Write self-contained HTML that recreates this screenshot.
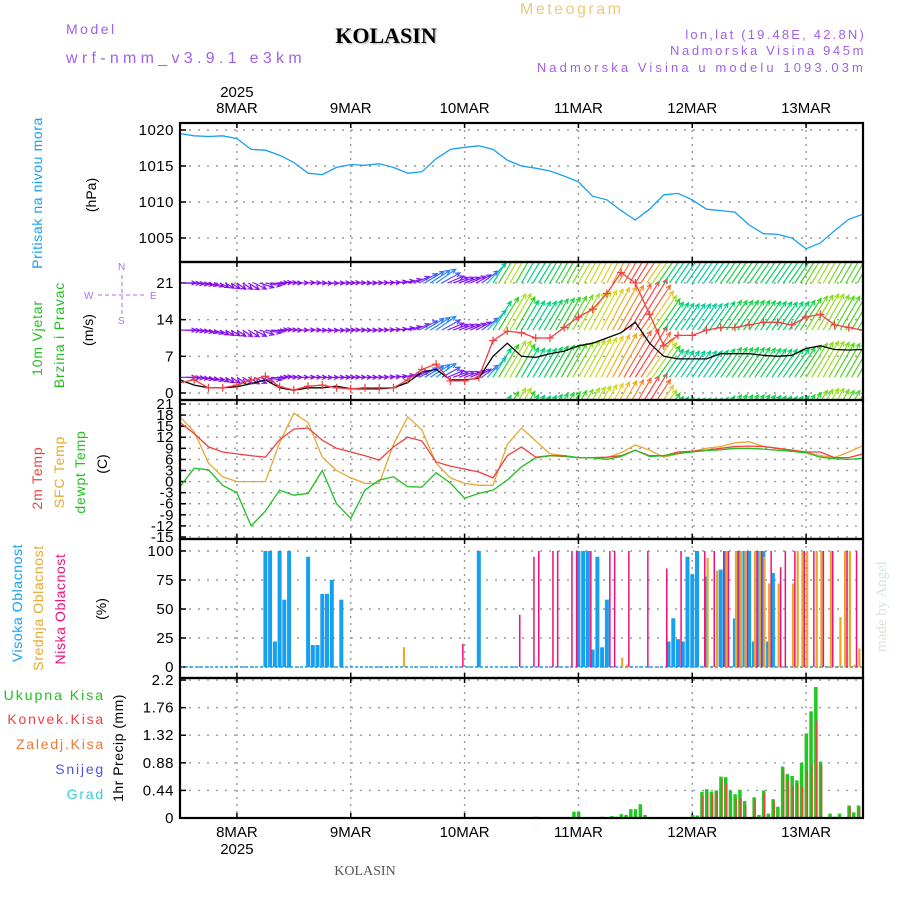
<!DOCTYPE html>
<html><head><meta charset="utf-8"><style>
html,body{margin:0;padding:0;background:#fff;}
svg{display:block;font-family:"Liberation Sans",sans-serif;}
</style></head><body>
<svg id="c" width="900" height="900" xmlns="http://www.w3.org/2000/svg">
<text x="520" y="14" font-size="16" fill="#f0c878" letter-spacing="2.5">Meteogram</text>
<text x="66" y="34" font-size="14" fill="#a060e8" letter-spacing="2.5">Model</text>
<text x="66" y="63" font-size="16" fill="#a060e8" letter-spacing="4.3">wrf-nmm_v3.9.1 e3km</text>
<text x="386" y="43" font-size="22" font-weight="bold" font-family="Liberation Serif,serif" fill="#ccc" text-anchor="middle" transform="translate(1.5,1.5)">KOLASIN</text>
<text x="386" y="43" font-size="22" font-weight="bold" font-family="Liberation Serif,serif" fill="#000" text-anchor="middle">KOLASIN</text>
<text x="866" y="39" font-size="13" fill="#a060e8" text-anchor="end" letter-spacing="2.2">lon,lat (19.48E, 42.8N)</text>
<text x="866" y="55" font-size="13" fill="#a060e8" text-anchor="end" letter-spacing="2.6">Nadmorska Visina 945m</text>
<text x="866" y="72" font-size="13" fill="#a060e8" text-anchor="end" letter-spacing="3.1">Nadmorska Visina u modelu 1093.03m</text>
<text x="365" y="875" font-size="14" font-family="Liberation Serif,serif" fill="#555" text-anchor="middle">KOLASIN</text>
<text transform="translate(886,652) rotate(-90)" font-size="15" font-family="Liberation Serif,serif" fill="#d8e4d8">made by Angel</text>
<g id="lbl">
<text transform="translate(42,193) rotate(-90)" font-size="14" fill="#18a0f0" text-anchor="middle" letter-spacing="0.6">Pritisak na nivou mora</text>
<text transform="translate(96,195) rotate(-90)" font-size="14" fill="#000" text-anchor="middle">(hPa)</text>
<text transform="translate(42,338) rotate(-90)" font-size="14" fill="#20c020" text-anchor="middle" letter-spacing="0.8">10m Vjetar</text>
<text transform="translate(64,335) rotate(-90)" font-size="14" fill="#20c020" text-anchor="middle" letter-spacing="0.8">Brzina i Pravac</text>
<text transform="translate(93,330) rotate(-90)" font-size="14" fill="#000" text-anchor="middle">(m/s)</text>
<text transform="translate(42,478) rotate(-90)" font-size="14" fill="#f04040" text-anchor="middle" letter-spacing="0.8">2m Temp</text>
<text transform="translate(64,472) rotate(-90)" font-size="14" fill="#e8a830" text-anchor="middle" letter-spacing="0.8">SFC Temp</text>
<text transform="translate(85,472) rotate(-90)" font-size="14" fill="#20c020" text-anchor="middle" letter-spacing="0.8">dewpt Temp</text>
<text transform="translate(107,464) rotate(-90)" font-size="14" fill="#000" text-anchor="middle">(C)</text>
<text transform="translate(22,603) rotate(-90)" font-size="14" fill="#18a0f0" text-anchor="middle" letter-spacing="0.6">Visoka Oblacnost</text>
<text transform="translate(43,608) rotate(-90)" font-size="14" fill="#e8a830" text-anchor="middle" letter-spacing="0.6">Srednja Oblacnost</text>
<text transform="translate(65,609) rotate(-90)" font-size="14" fill="#f0107a" text-anchor="middle" letter-spacing="0.6">Niska Oblacnost</text>
<text transform="translate(106,609) rotate(-90)" font-size="14" fill="#000" text-anchor="middle">(%)</text>
<text x="105" y="700" font-size="14" fill="#20c020" text-anchor="end" letter-spacing="2">Ukupna Kisa</text>
<text x="105" y="724" font-size="14" fill="#f04040" text-anchor="end" letter-spacing="1.8">Konvek.Kisa</text>
<text x="105" y="749" font-size="14" fill="#f07830" text-anchor="end" letter-spacing="1.8">Zaledj.Kisa</text>
<text x="105" y="774" font-size="14" fill="#5050f0" text-anchor="end" letter-spacing="1.8">Snijeg</text>
<text x="105" y="799" font-size="14" fill="#30d0d0" text-anchor="end" letter-spacing="1.8">Grad</text>
<text transform="translate(123,748) rotate(-90)" font-size="14" fill="#000" text-anchor="middle" letter-spacing="0.5">1hr Precip (mm)</text>
<g fill="#b070e8" stroke="#b070e8" font-size="10">
<text x="118" y="270" stroke="none">N</text><text x="118" y="324" stroke="none">S</text>
<text x="84" y="299" stroke="none">W</text><text x="150" y="299" stroke="none">E</text>
<line x1="122" y1="275" x2="122" y2="315" stroke-dasharray="4,3"/><line x1="98" y1="295" x2="146" y2="295" stroke-dasharray="4,3"/>
</g>
</g>
<g id="plot"></g>
</svg>
<script>
// ---- data (3-hourly from 7 Mar 12Z, 49 steps) ----
const pressure=[1019.5,1019.2,1019.1,1019.2,1018.8,1017.3,1017.2,1016.5,1015.5,1014.0,1013.8,1014.8,1015.2,1015.1,1015.3,1014.8,1014.0,1014.2,1016.0,1017.3,1017.6,1017.8,1017.3,1015.8,1015.0,1014.7,1014.3,1013.6,1012.8,1010.8,1010.3,1008.8,1007.5,1009.0,1011.0,1011.2,1010.3,1009.0,1008.8,1008.6,1006.8,1005.6,1005.5,1005.0,1003.5,1004.3,1006.0,1007.6,1008.3];
const windSpeed=[2.5,1.5,1,1,1.2,1.8,2.5,1,0.5,1,1,1.3,0.8,0.8,0.8,1,2,4,4.5,2.5,2.5,2.8,7,9.5,7,6.8,7.5,8,9,9.5,10.5,11.5,13.5,9.5,7,6.5,6.5,6.5,7.5,7.5,7.5,7.2,7,7.2,8.5,9,8.3,8.2,8.3];
const windGust=[2,2.5,1,1,1.5,2.5,3.2,1.2,0.6,1.3,1.5,1,0.8,1,1,1,2.5,4.5,5.5,2.3,2.3,3,10,11.8,11.5,10.5,10.5,12.5,14.5,16,19,23,21,15,9,11,11,12,12.5,12.5,13,13.5,13.5,13,14.5,15,13,12.5,12];
const windDir=[270,275,285,300,305,300,280,265,270,268,272,270,268,270,268,265,255,240,235,250,250,240,212,210,210,212,210,210,210,208,208,210,212,215,215,215,215,215,215,215,215,215,215,215,212,210,210,210,210];
const temp2m=[16,13,9.4,8,7.5,7,6.6,11.3,14.2,14.5,11.2,9,8,7,5.8,9.4,12,11,5.3,4.2,3.4,2.6,1,7,9.4,6.6,7,6.8,6.5,6.5,6.6,7,8.5,7,7,8,8.2,8.5,9,9.5,9.6,9.5,9,8.5,8,8,6.5,6.5,7.5];
const tempSfc=[17.5,13.5,5,1.3,0,0,0,10.5,18.5,16,6.6,3,1,-0.5,-0.5,10,17.5,14,5,1,-0.5,-1,-1,10,14.5,11,7.5,7,6.5,6.5,6.5,7.8,9.9,8.5,6.6,7.5,8.2,9,9.5,10.5,10.8,9.5,9,8.5,8,7,6.5,8,9.7];
const dewpt=[-1.4,3.6,3.2,-1,-3,-12,-8,-2.3,-3.7,-3.2,3,-6,-10,-2.3,0.4,1.3,-1.4,-1.5,2.4,-0.4,-4.5,-3.2,-2.3,0.4,4,6.4,7,7,6.5,6.4,6,6.8,8.5,6.8,7,7.6,8,8.4,8.6,9,9,8.8,8.5,8.2,7.8,6.6,6.2,6,6.3];
// cloud (hour index, percent)
const highHours=[18,19,20,21,22,23,27,28,29,30,31,32,34,63,84,85,86,87,88,89,90,103,104,105,106,107,108,109,111,114,115,117,118,119,120,121,122,123,124,125];
const highVals=[100,100,22,100,58,100,95,19,19,63,63,75,58,100,100,100,100,15,95,17,58,22,42,24,22,95,80,100,78,84,100,42,100,100,100,22,100,100,22,81];
const midHours=[47,93,94,111,113,115,117,118,119,121,122,123,124,126,129,130,131,132,134,135,137,139,140,141,142,143];
const midVals=[17,8,2,94,83,100,100,100,100,100,100,95,72,72,72,100,100,100,100,100,100,43,100,100,2,16];
const lowHours=[60,72,75,76,79,80,83,84,87,91,92,95,99,103,106,111,113,115,116,118,120,122,123,125,127,128,130,132,134,136,138,141,143];
const lowVals=[20,45,95,100,100,100,100,100,100,100,100,100,100,85,100,100,100,100,100,100,100,100,100,100,86,100,100,100,100,100,100,100,100];
// precipitation (hour index, mm)
const rainHours=[75,83,84,89,91,92,93,94,95,96,97,98,107,108,109,110,111,112,113,114,115,116,117,118,119,121,122,123,124,125,126,127,128,129,130,131,132,133,134,135,137,138,139,141,142,143];
const rainTotal=[0.02,0.1,0.1,0.02,0.03,0.02,0.06,0.05,0.14,0.14,0.22,0.05,0.01,0.05,0.04,0.42,0.46,0.42,0.44,0.66,0.65,0.44,0.38,0.45,0.27,0.33,0.05,0.44,0.07,0.3,0.18,0.82,0.7,0.67,0.6,0.88,1.35,1.7,2.09,0.9,0.07,0.02,0.07,0.2,0.09,0.2];
const convHours=[97,110,111,112,113,114,115,117,118,119,121,123,125,127,128,129,130,131,132,133,134,135,141,143];
const convVals=[0.02,0.35,0.4,0.38,0.4,0.62,0.55,0.3,0.32,0.2,0.28,0.4,0.26,0.78,0.6,0.5,0.55,0.5,0.75,0.85,1.55,0.85,0.18,0.18];
const pTicks=[1005,1010,1015,1020], wTicks=[0,7,14,21], tTicks=[21,18,15,12,9,6,3,0,-3,-6,-9,-12,-15];
const cTicks=[0,25,50,75,100], rTicks=[0,0.44,0.88,1.32,1.76,2.2];
const dayLabels=["8MAR","9MAR","10MAR","11MAR","12MAR","13MAR"];

// ---- layout ----
const NS="http://www.w3.org/2000/svg", G=document.getElementById('plot');
const L=180,R=863;
const tx=h=>L+h*(R-L)/144;
const yP=v=>130+(1020-v)*7.2, yW=v=>393-v*5.24, yT=v=>404+(21-v)*3.694, yC=v=>667-v*1.16, yR=v=>818-v*62.7;
const panels=[[123,262,'pressure'],[262,400,'wind'],[400,539,'temp'],[539,678,'cloud'],[678,818,'precip']];
function el(t,a,p){const e=document.createElementNS(NS,t);for(const k in a)e.setAttribute(k,a[k]);(p||G).appendChild(e);return e;}
const defs=el('defs',{});
panels.forEach(p=>{const cp=el('clipPath',{id:'clip-'+p[2]},defs);el('rect',{x:L,y:p[0],width:R-L,height:p[1]-p[0]},cp);});
function grid(p,ticks,fy,fmt){
  const g=el('g',{});
  
  
  ticks.forEach(t=>{const y=fy(t);
    el('line',{x1:L,x2:R,y1:y,y2:y,stroke:'#999','stroke-width':1.4,'stroke-dasharray':'2,7'},g);
    el('line',{x1:L,x2:L+6,y1:y,y2:y,stroke:'#000','stroke-width':1.5},g);
    const lab=el('text',{x:L-6,y:y+5,'font-size':15,'text-anchor':'end',fill:'#000','letter-spacing':'0.5'},g);lab.textContent=fmt?fmt(t):t;
    
    
  });
  for(let d=0;d<6;d++){const x=tx(12+24*d);
    el('line',{x1:x,x2:x,y1:p[0],y2:p[1],stroke:'#999','stroke-width':1.4,'stroke-dasharray':'2,5'},g);
    el('line',{x1:x,x2:x,y1:p[0],y2:p[0]+5,stroke:'#000','stroke-width':1.5},g);
    el('line',{x1:x,x2:x,y1:p[1]-5,y2:p[1],stroke:'#000','stroke-width':1.5},g);}
}
grid(panels[0],pTicks,yP);grid(panels[1],wTicks,yW);grid(panels[2],tTicks,yT);grid(panels[3],cTicks,yC);
grid(panels[4],rTicks,yR,t=>t===0?'0':(t===2.2?'2.2':t.toFixed(2)));
function line(arr,fy,col,name,clip){
  const pts=arr.map((v,i)=>tx(i*3).toFixed(1)+','+fy(v).toFixed(1)).join(' ');
  const e=el('polyline',{points:pts,fill:'none',stroke:col,'stroke-width':1.3,'clip-path':'url(#clip-'+clip+')'});
  
  
  return e;
}
line(pressure,yP,'#18a0f0','pressure-line','pressure');
// wind arrows
const stops=[[0,[138,0,224]],[3,[130,30,255]],[4,[48,110,255]],[5,[16,176,240]],[6,[0,208,192]],[7,[0,208,112]],[8,[48,208,32]],[9,[170,224,32]],[10,[230,210,32]],[11,[240,160,32]],[12.5,[255,64,64]]];
function col(s){for(let i=1;i<stops.length;i++){if(s<=stops[i][0]){const a=stops[i-1],b=stops[i],f=(s-a[0])/(b[0]-a[0]);return 'rgb('+a[1].map((c,k)=>Math.round(c+(b[1][k]-c)*f)).join(',')+')';}}return 'rgb(255,64,64)';}
const wg=el('g',{'clip-path':'url(#clip-wind)'});


const rows=[21,12,3,-6];
for(let h=0;h<=144;h+=1.2){
  const i=Math.min(47,Math.floor(h/3)),f=h/3-i;
  const s=windSpeed[i]+(windSpeed[i+1]-windSpeed[i])*f;
  const d=windDir[i]+(windDir[i+1]-windDir[i])*f;
  const ang=(d+180)*Math.PI/180, len=6+4*s;
  const dx=Math.sin(ang)*len, dy=-Math.cos(ang)*len, c=col(s);
  rows.forEach(r=>{const x0=tx(h),y0=yW(r),x1=x0+dx,y1=y0+dy;
    const a=Math.atan2(dy,dx),hl=5;
    el('path',{d:`M${x0.toFixed(1)},${y0.toFixed(1)}L${x1.toFixed(1)},${y1.toFixed(1)}M${(x1-hl*Math.cos(a-0.45)).toFixed(1)},${(y1-hl*Math.sin(a-0.45)).toFixed(1)}L${x1.toFixed(1)},${y1.toFixed(1)}L${(x1-hl*Math.cos(a+0.45)).toFixed(1)},${(y1-hl*Math.sin(a+0.45)).toFixed(1)}`,stroke:c,'stroke-width':1.2,fill:'none'},wg);
  });
}
line(windSpeed,yW,'#000','wind-speed-line','wind');
line(windGust,yW,'#f04040','wind-gust-line','wind');
const gg=el('g',{'clip-path':'url(#clip-wind)',stroke:'#f04040','stroke-width':1.2});


windGust.forEach((v,i)=>{const x=tx(i*3),y=yW(v);el('path',{d:`M${x-4},${y}h8M${x},${y-4}v8`},gg);});
line(tempSfc,yT,'#e8a830','sfc-temp-line','temp');
line(temp2m,yT,'#f04040','temp-2m-line','temp');
line(dewpt,yT,'#20c020','dewpoint-line','temp');
// clouds
function bars(hours,vals,fy,w,off,colr,name,clip){
  const g=el('g',{'clip-path':'url(#clip-'+clip+')',fill:colr});
  
  
  hours.forEach((h,i)=>{const y=fy(vals[i]),y0=fy(0);el('rect',{x:(tx(h)+off).toFixed(1),y:y.toFixed(1),width:w,height:Math.max(0,y0-y).toFixed(1)},g);});
}
el('line',{x1:L,x2:R,y1:yC(0),y2:yC(0),stroke:'#18a0f0','stroke-width':1.5,'stroke-dasharray':'3,2'});
bars(highHours,highVals,yC,4,-2,'#18a0f0','high-cloud-bars','cloud');
bars(midHours,midVals,yC,2.2,0,'#e8a830','mid-cloud-bars','cloud');
bars(lowHours,lowVals,yC,1.5,-2.5,'#f0107a','low-cloud-bars','cloud');
bars(rainHours,rainTotal,yR,3.5,-1.5,'#20c820','total-rain-bars','precip');
bars(convHours,convVals,yR,1.5,0.5,'#f04040','convective-rain-bars','precip');
el('line',{x1:L,x2:R,y1:818,y2:818,stroke:'#000','stroke-width':1.5,'stroke-dasharray':'6,3'});
// frames
panels.forEach(p=>{const r=el('rect',{x:L,y:p[0],width:R-L,height:p[1]-p[0],fill:'none',stroke:'#000','stroke-width':2.2});
  
  });
// date labels
dayLabels.forEach((d,i)=>{const x=tx(12+24*i);
  const t=el('text',{x:x,y:113,'font-size':15,'text-anchor':'middle'});t.textContent=d;
  
  
  const b=el('text',{x:x,y:837,'font-size':15,'text-anchor':'middle'});b.textContent=d;
  
  });
const y1=el('text',{x:tx(12),y:97,'font-size':15,'text-anchor':'middle'});y1.textContent='2025';


const y2=el('text',{x:tx(12),y:854,'font-size':15,'text-anchor':'middle'});y2.textContent='2025';


</script>
</body></html>
